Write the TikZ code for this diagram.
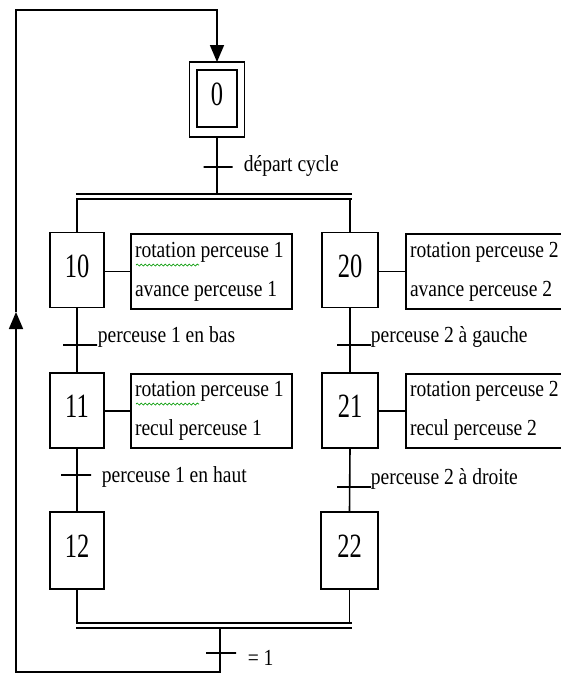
\documentclass[tikz,border=0pt]{standalone}
\usepackage{fontspec}
\setmainfont{Liberation Serif}
\newfontfamily\labfont{Liberation Serif}[FakeStretch=0.85]
\newfontfamily\numfont{Liberation Serif}[FakeStretch=0.72]
\newcommand\actline[1]{\makebox[153pt][l]{#1}}
\usetikzlibrary{arrows.meta,decorations.pathmorphing}
\begin{document}
\begin{tikzpicture}[x=1pt,y=-1pt,line width=1.6pt,
  stepbox/.style={draw,rectangle,minimum width=54pt,minimum height=75pt,inner sep=0pt,outer sep=0pt,text depth=8pt,font=\numfont\fontsize{34}{34}\selectfont},
  actbox/.style={draw,rectangle,anchor=west,minimum height=75pt,inner xsep=4pt,inner ysep=0pt,outer sep=0pt,align=left,font=\labfont\fontsize{23}{39}\selectfont},
  tick/.style={draw,rectangle,minimum height=0pt,inner sep=0pt,outer sep=0pt},
  lab/.style={anchor=base west,inner sep=0pt,font=\labfont\fontsize{23}{23}\selectfont},
  arr/.style={-{Triangle[length=17pt,width=14pt]}},
  spell/.style={draw=green!60!black,line width=0.7pt,decorate,decoration={snake,segment length=4pt,amplitude=1pt}}
]
\useasboundingbox (0,0) rectangle (561,675);
\clip (0,0) rectangle (561,675);
\fill[white] (0,0) rectangle (561,675);

% initial step
\node[stepbox,minimum width=55pt] (s0) at (217,99.5) {};
\node[draw,rectangle,minimum width=40pt,minimum height=57pt,inner sep=0pt,text depth=8pt,font=\numfont\fontsize{34}{34}\selectfont] (s0i) at (217,98.5) {0};

% steps
\node[stepbox] (s10) at (77,270) {10};
\node[stepbox] (s11) at (77,410.5) {11};
\node[stepbox,minimum height=77pt] (s12) at (77,550.5) {12};
\node[stepbox,minimum width=56pt] (s20) at (350,270) {20};
\node[stepbox,minimum width=56pt] (s21) at (350,410.5) {21};
\node[stepbox,minimum width=57pt,minimum height=77pt] (s22) at (349.5,550.5) {22};

% actions
\node[actbox] (a10) at (131,271.5) {\actline{rotation perceuse 1}\\\actline{avance perceuse 1}};
\node[actbox,minimum height=74pt] (a11) at (131,411) {\actline{rotation perceuse 1}\\\actline{recul perceuse 1}};
\node[actbox] (a20) at (406,271.5) {\actline{rotation perceuse 2}\\\actline{avance perceuse 2}};
\node[actbox,minimum height=74pt] (a21) at (406,411) {\actline{rotation perceuse 2}\\\actline{recul perceuse 2}};
\draw[spell] (136,265) -- (199,265);
\draw[spell] (136,404) -- (199,404);

\draw (s10.east |- a10.west) -- (a10.west);
\draw (s11.east |- a11.west) -- (a11.west);
\draw (s20.east |- a20.west) -- (a20.west);
\draw (s21.east |- a21.west) -- (a21.west);

% bars
\coordinate (b1l) at (76,194);  \coordinate (b1r) at (352,194);
\coordinate (b2l) at (76,199);  \coordinate (b2r) at (352,199);
\coordinate (b3l) at (76,623);  \coordinate (b3r) at (352,623);
\coordinate (b4l) at (76,628);  \coordinate (b4r) at (352,628);
\draw (b1l) -- (b1r);
\draw (b2l) -- (b2r);
\draw (b3l) -- (b3r);
\draw (b4l) -- (b4r);

% transitions
\node[tick,minimum width=29pt] (t0) at (218,167) {};
\node[tick,minimum width=34pt] (t1) at (80,345) {};
\node[tick,minimum width=34pt] (t2) at (354,345) {};
\node[tick,minimum width=30pt] (t3) at (76,475) {};
\node[tick,minimum width=34pt] (t4) at (354,487) {};
\node[tick,minimum width=30pt] (t5) at (221,653) {};

\node[lab] (l0) at (243,171) {départ cycle};
\node[lab] (l1) at (97,342) {perceuse 1 en bas};
\node[lab] (l2) at (370,342) {perceuse 2 à gauche};
\node[lab] (l3) at (101,482) {perceuse 1 en haut};
\node[lab] (l4) at (370,484) {perceuse 2 à droite};
\node[lab] (l5) at (247,665) {= 1};

% links
\draw (s0.south) -- (s0.south |- b1l);
\draw (b2l -| s10.north) -- (s10.north);
\draw (b2r -| s20.north) -- (s20.north);
\draw (s10.south) -- (s11.north);
\draw (s11.south) -- (s12.north);
\draw (s20.south) -- (s21.north);
\draw (s21.south) -- (s22.north);
\draw (s12.south) -- (s12.south |- b3l);
\draw (s22.south) -- (s22.south |- b3r);

% loop back
\coordinate (c1) at (220,628);
\coordinate (c2) at (220,672);
\coordinate (c3) at (16,672);
\coordinate (c4) at (16,312);
\coordinate (c5) at (16,10);
\coordinate (c6) at (217,10);
\draw[arr] (c1) -- (c2) -- (c3) -- (c4);
\draw[arr] (c4) -- (c5) -- (c6) -- (s0.north);
\end{tikzpicture}
\end{document}
